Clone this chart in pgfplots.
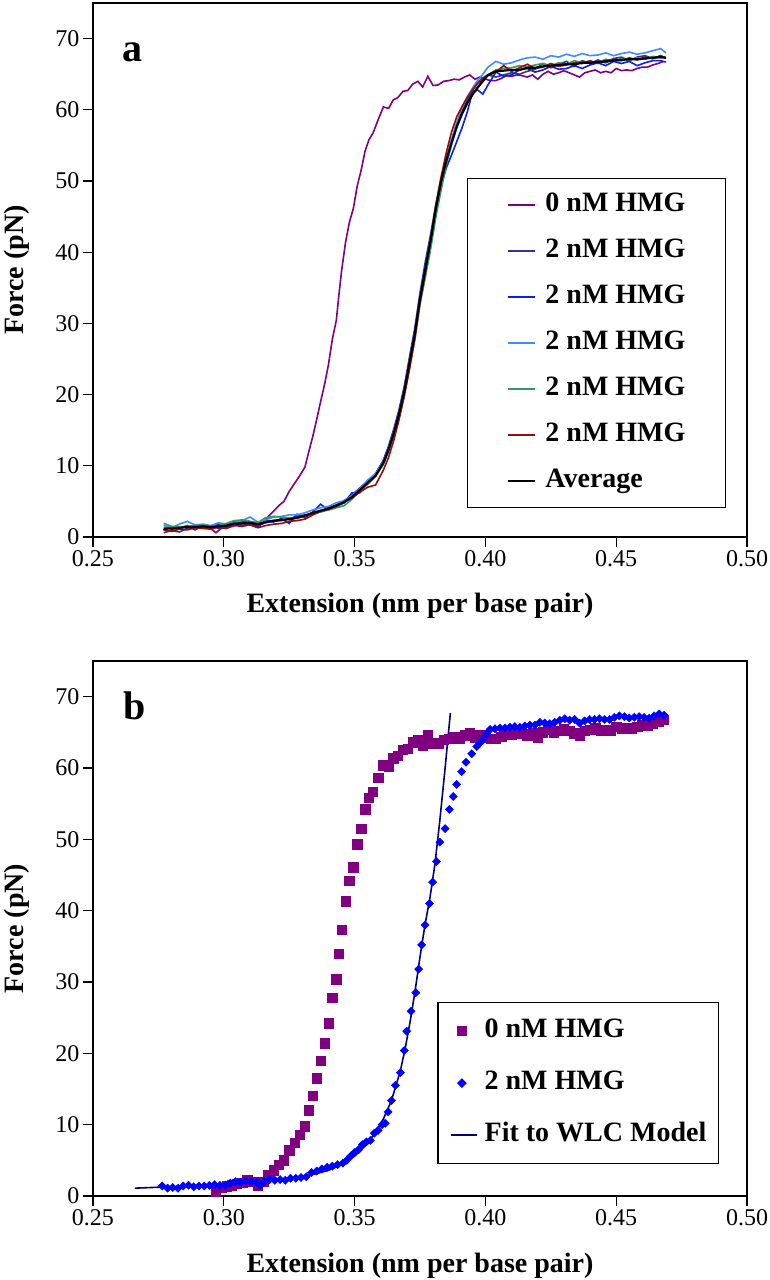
\documentclass[border=0pt]{standalone}
\usepackage{fontspec}
\setmainfont{Liberation Serif}
\usepackage{pgfplots}
\usepackage{pgfplotstable}
\pgfplotsset{compat=1.18}

\definecolor{cpurple}{RGB}{128,0,128}
\definecolor{cnavy}{RGB}{51,51,153}
\definecolor{cblue}{RGB}{10,30,240}
\definecolor{clblue}{RGB}{60,140,255}
\definecolor{cgreen}{RGB}{46,155,95}
\definecolor{cred}{RGB}{155,10,10}
\definecolor{cfit}{RGB}{0,0,128}
\definecolor{cdiam}{RGB}{0,0,255}

% 0 nM HMG
\pgfplotstableread{
x y
0.277 1.0
0.279 1.3
0.281 0.9
0.283 1.2
0.285 1.4
0.287 1.1
0.289 1.5
0.291 1.3
0.293 1.6
0.295 1.2
0.297 0.6
0.299 1.2
0.301 1.4
0.303 1.5
0.305 1.7
0.307 1.9
0.309 2.3
0.311 2.0
0.313 1.5
0.315 2.0
0.317 2.9
0.319 3.6
0.321 4.4
0.323 5.0
0.325 6.4
0.327 7.5
0.329 8.6
0.331 9.8
0.3325 12.0
0.334 14.1
0.3355 16.5
0.337 19.0
0.3385 21.4
0.340 24.2
0.3415 27.8
0.343 30.4
0.344 34.0
0.345 37.3
0.3465 41.3
0.348 44.2
0.3495 46.1
0.351 49.3
0.3525 51.5
0.354 54.2
0.3555 55.8
0.357 56.7
0.359 58.6
0.361 60.4
0.363 60.2
0.3648 61.4
0.3665 61.7
0.3685 62.6
0.3703 62.7
0.3722 63.6
0.3742 64.0
0.376 63.2
0.378 64.7
0.380 63.4
0.382 63.5
0.384 64.0
0.386 64.1
0.388 64.3
0.390 64.2
0.392 64.6
0.394 64.9
0.396 64.3
0.398 64.6
0.400 64.3
0.402 64.1
0.404 64.1
0.406 64.4
0.408 64.8
0.410 64.7
0.412 64.9
0.414 64.8
0.416 64.6
0.418 64.9
0.420 64.3
0.422 65.0
0.424 65.4
0.426 65.0
0.428 65.2
0.430 65.5
0.432 65.2
0.434 64.9
0.436 64.6
0.438 65.2
0.440 65.4
0.442 65.6
0.444 65.2
0.446 65.4
0.448 65.2
0.450 65.8
0.452 65.5
0.454 65.6
0.456 65.5
0.458 65.8
0.460 66.0
0.462 66.0
0.464 66.3
0.466 66.5
0.468 66.8
}\zeroHMG

% 2 nM HMG runs and average
\pgfplotstableread{
x avg c1 c2 c3 c4 c5
0.277 1.2 0.6 1.0 1.6 1.9 1.0
0.280 1.2 0.9 1.4 1.3 1.5 0.8
0.283 1.3 0.7 1.2 1.8 1.4 1.1
0.286 1.4 1.2 1.6 2.2 1.5 1.0
0.289 1.4 1.5 1.0 1.7 1.6 1.3
0.292 1.5 1.3 1.6 1.8 1.7 1.2
0.295 1.4 1.6 1.3 1.6 1.5 1.1
0.298 1.5 1.2 1.8 2.0 1.6 1.4
0.301 1.6 1.5 1.4 1.8 1.9 1.2
0.304 1.9 1.8 1.7 2.1 2.3 1.6
0.307 1.9 1.6 2.2 2.3 2.4 1.5
0.310 2.0 1.9 1.8 2.8 2.2 1.7
0.313 1.8 1.6 1.4 2.1 2.0 1.3
0.316 2.1 2.0 2.3 2.4 2.7 1.6
0.319 2.3 2.2 2.1 2.8 2.9 1.8
0.322 2.4 2.3 2.6 2.9 2.8 1.9
0.325 2.5 2.6 1.9 3.1 2.7 2.2
0.328 2.7 2.9 3.2 3.1 2.6 2.3
0.331 3.0 3.1 2.7 3.4 3.0 2.5
0.334 3.4 3.2 3.5 3.8 3.3 3.1
0.337 3.7 3.6 4.6 4.1 3.5 3.6
0.340 4.0 4.1 3.8 4.3 3.8 3.9
0.343 4.4 4.5 4.3 4.8 4.1 4.3
0.346 4.9 5.1 4.8 5.1 4.4 4.9
0.349 5.6 5.9 6.2 5.8 5.3 5.5
0.352 6.6 6.9 6.2 6.8 6.5 6.3
0.355 7.6 7.8 7.6 8.0 7.4 7.0
0.358 8.6 8.8 8.9 8.9 8.5 7.3
0.361 10.4 10.8 10.7 10.6 10.2 9.4
0.363 12.3 12.8 12.6 12.5 12.0 11.2
0.365 14.6 15.2 14.9 14.8 14.2 13.6
0.367 17.3 17.9 17.6 17.5 16.8 16.5
0.369 20.5 21.2 20.8 20.7 19.9 19.8
0.371 24.5 25.3 24.9 24.7 23.8 23.6
0.373 28.5 29.3 28.8 28.7 27.6 27.8
0.375 33.5 34.3 33.6 33.7 32.6 32.9
0.377 37.5 38.6 37.9 37.6 36.4 37.1
0.379 41.5 42.4 41.6 41.5 40.3 41.6
0.381 46.0 46.6 45.5 45.9 44.8 46.5
0.383 49.8 50.2 49.2 49.9 48.6 50.5
0.385 52.8 53.1 51.8 53.1 52.2 53.9
0.387 55.3 55.4 53.6 55.8 55.0 56.8
0.389 57.6 57.8 55.5 58.2 57.4 59.0
0.391 59.4 59.7 57.4 60.3 59.3 60.4
0.393 60.9 61.3 59.6 61.8 60.8 61.7
0.395 62.1 62.6 62.4 63.0 62.1 62.8
0.397 63.1 63.8 62.8 64.1 63.2 63.7
0.399 64.0 64.5 62.2 65.0 64.1 64.3
0.401 64.9 64.9 63.5 66.0 64.9 64.8
0.404 65.4 64.6 65.3 66.8 65.6 65.3
0.407 65.5 64.9 64.7 66.4 65.8 66.2
0.410 65.6 65.2 64.9 66.6 65.9 65.4
0.413 65.6 65.0 65.6 67.0 66.2 65.9
0.416 65.9 65.4 65.8 67.3 66.0 66.4
0.419 65.9 65.7 65.3 67.4 66.3 65.8
0.422 66.1 66.5 65.6 67.1 66.5 66.0
0.425 66.2 65.9 66.1 67.6 66.2 66.5
0.428 66.3 66.4 65.7 67.4 66.6 66.1
0.431 66.4 66.8 65.8 67.8 66.4 66.3
0.434 66.4 66.1 66.2 67.5 66.9 66.6
0.437 66.6 66.9 65.8 67.9 66.6 66.5
0.440 66.6 66.5 66.3 67.6 66.8 66.9
0.443 66.7 67.0 66.6 67.7 66.6 66.5
0.446 66.8 66.6 66.2 68.0 67.1 66.9
0.449 66.9 67.2 66.8 67.6 66.8 67.1
0.452 67.0 67.4 66.5 67.9 67.2 66.9
0.455 67.1 66.9 66.8 68.1 67.0 67.3
0.458 67.1 67.4 66.2 67.8 67.3 67.0
0.461 67.2 67.6 66.6 68.0 67.1 67.4
0.464 67.3 67.2 66.9 68.3 67.5 67.2
0.467 67.4 67.6 66.9 68.6 67.3 67.6
0.469 67.3 67.3 66.7 68.0 67.4 67.2
}\twoHMG

% 2 nM HMG (panel b markers)
\pgfplotstableread{
x y
0.2765 1.4
0.2785 1.1
0.2805 1.2
0.2825 1.1
0.2845 1.4
0.2865 1.5
0.2885 1.3
0.2905 1.4
0.2925 1.4
0.2945 1.5
0.2965 1.6
0.2985 1.5
0.3005 1.5
0.3025 1.8
0.3045 2.0
0.3065 1.9
0.3085 2.1
0.3105 2.0
0.3125 1.9
0.3140 1.5
0.3155 2.0
0.3175 2.3
0.3195 2.2
0.3215 2.3
0.3235 2.2
0.3255 2.5
0.3275 2.5
0.3295 2.6
0.3315 2.7
0.3335 3.3
0.3355 3.5
0.3375 3.8
0.3395 4.0
0.3415 4.2
0.3435 4.4
0.3455 4.6
0.3470 5.0
0.3485 5.6
0.3500 6.1
0.3515 6.5
0.3530 7.2
0.3545 7.6
0.3560 7.8
0.3575 8.8
0.3590 9.2
0.3605 10.0
0.3617 10.2
0.3628 11.8
0.3641 13.4
0.3656 15.5
0.3675 17.3
0.3690 20.4
0.3699 23.1
0.3716 25.9
0.3734 28.5
0.3745 31.8
0.3756 35.2
0.3769 38.0
0.3786 41.0
0.3798 44.0
0.3813 46.9
0.3826 49.6
0.3846 51.5
0.3862 54.2
0.3877 56.0
0.3890 57.7
0.3909 59.5
0.3926 60.8
0.3948 62.0
0.3967 63.0
0.3979 63.5
0.3990 64.0
0.4005 64.8
0.4018 65.4
0.4037 65.5
0.4056 65.6
0.4075 65.6
0.4094 65.7
0.4113 65.8
0.4132 65.7
0.4151 65.9
0.4170 66.0
0.4189 66.0
0.4208 66.4
0.4227 66.3
0.4246 66.2
0.4265 66.4
0.4284 66.7
0.4303 66.9
0.4322 66.7
0.4341 66.8
0.4360 66.3
0.4379 66.6
0.4398 66.8
0.4417 66.8
0.4436 66.9
0.4455 66.8
0.4474 66.8
0.4493 67.1
0.4512 67.3
0.4531 67.2
0.4550 67.0
0.4569 67.1
0.4588 67.2
0.4607 67.1
0.4626 67.0
0.4645 67.3
0.4664 67.6
0.4683 67.4
}\twoHMGb

% WLC fit
\pgfplotstableread{
x y
0.2660 1.10
0.2765 1.25
0.2850 1.35
0.2950 1.50
0.3050 1.70
0.3150 2.00
0.3250 2.40
0.3350 3.10
0.3400 3.60
0.3450 4.40
0.3500 5.60
0.3540 7.00
0.3580 8.90
0.3610 10.8
0.3640 13.3
0.3674 17.4
0.3693 20.6
0.3712 24.4
0.3731 28.7
0.3750 33.5
0.3769 38.0
0.3788 41.8
0.3807 46.5
0.3826 52.7
0.3846 60.0
0.3866 67.7
}\wlcfit

\pgfplotsset{
  lineleg/.style={legend image code/.code={\draw[##1] (0pt,0pt) -- (#1,0pt);}},
  markleg/.style={legend image code/.code={\draw[mark repeat=2,mark phase=2,##1] plot coordinates {(0pt,0pt) (11pt,0pt) (26pt,0pt)};}},
  panel/.style={
    scale only axis, width=654pt,
    xmin=0.25, xmax=0.5, ymin=0, ymax=75,
    xtick={0.25,0.30,0.35,0.40,0.45,0.50},
    ytick={0,10,20,30,40,50,60,70},
    scaled ticks=false,
    xticklabel style={/pgf/number format/.cd, fixed, fixed zerofill, precision=2, assume math mode=true},
    yticklabel style={/pgf/number format/.cd, fixed, assume math mode=true},
    tick label style={font=\fontsize{24}{28}\selectfont},
    tick align=outside, tick pos=left, major tick length=10pt,
    axis line style={line width=1.2pt},
    every tick/.style={black, line width=1.2pt},
    label style={font=\fontsize{28}{34}\selectfont\bfseries},
    xlabel={Extension (nm per base pair)},
    ylabel={Force (pN)},
    legend cell align=left,
  }
}

\begin{document}
\begin{tikzpicture}[x=1pt,y=1pt]
\path[use as bounding box] (0,0) rectangle (769,1280);

% ---------- panel a ----------
\begin{axis}[panel, at={(93pt,743pt)}, anchor=south west, height=534pt,
  xlabel style={at={(axis description cs:0.5,-0.1423)}, anchor=base},
  ylabel style={at={(axis description cs:-0.1063,0.5)}, anchor=base},
  legend style={at={(axis description cs:0.968,0.672)}, anchor=north east,
    draw=black, line width=1.2pt, fill=white,
    font=\fontsize{28}{34}\selectfont\bfseries,
    inner xsep=40pt, inner ysep=14pt, row sep=21pt,
    nodes={inner sep=0pt, text height=19pt, text depth=6pt},
    /tikz/every odd column/.append style={column sep=9pt}},
  lineleg=27pt,
]
\addplot[cpurple, line width=1.6pt] table[x=x,y=y] {\zeroHMG};
\addlegendentry{0 nM HMG}
\addplot[cnavy, line width=1.6pt] table[x=x,y=c1] {\twoHMG};
\addlegendentry{2 nM HMG}
\addplot[cblue, line width=1.6pt] table[x=x,y=c2] {\twoHMG};
\addlegendentry{2 nM HMG}
\addplot[clblue, line width=1.6pt] table[x=x,y=c3] {\twoHMG};
\addlegendentry{2 nM HMG}
\addplot[cgreen, line width=1.6pt] table[x=x,y=c4] {\twoHMG};
\addlegendentry{2 nM HMG}
\addplot[cred, line width=1.6pt] table[x=x,y=c5] {\twoHMG};
\addlegendentry{2 nM HMG}
\addplot[black, line width=2.2pt] table[x=x,y=avg] {\twoHMG};
\addlegendentry{Average}
\node[anchor=base, font=\fontsize{40}{48}\selectfont\bfseries] at (axis cs:0.2651,66.8) {a};
\end{axis}

% ---------- panel b ----------
\begin{axis}[panel, at={(93pt,84pt)}, anchor=south west, height=535pt,
  xlabel style={at={(axis description cs:0.5,-0.1421)}, anchor=base},
  ylabel style={at={(axis description cs:-0.1063,0.5)}, anchor=base},
  legend style={at={(axis description cs:0.957,0.3626)}, anchor=north east,
    draw=black, line width=1.2pt, fill=white,
    font=\fontsize{28}{34}\selectfont\bfseries,
    inner xsep=12pt, inner ysep=16pt, row sep=27pt,
    nodes={inner sep=0pt, text height=19pt, text depth=6pt},
    /tikz/every odd column/.append style={column sep=7pt}},
]
\addplot[cpurple, only marks, mark=square*, mark size=4.7pt,
  restrict x to domain=0.296:0.47, markleg]
  table[x=x,y=y] {\zeroHMG};
\addlegendentry{0 nM HMG}
\addplot[cdiam, only marks, mark=square*, mark size=2.9pt, mark options={rotate=45}, markleg]
  table[x=x,y=y] {\twoHMGb};
\addlegendentry{2 nM HMG}
\addplot[cfit, line width=1.6pt, lineleg=26pt]
  table[x=x,y=y] {\wlcfit};
\addlegendentry{Fit to WLC Model}
\node[anchor=base, font=\fontsize{40}{48}\selectfont\bfseries] at (axis cs:0.2661,66.8) {b};
\end{axis}
\end{tikzpicture}
\end{document}
